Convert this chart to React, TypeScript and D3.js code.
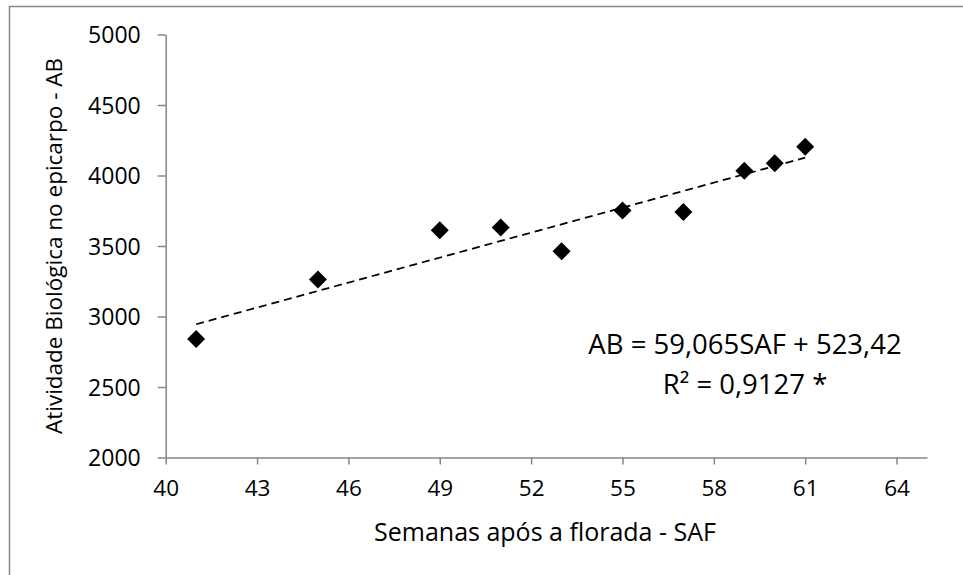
import React, { useEffect, useRef } from 'react';
import * as d3 from 'd3';

// semanas após a florada (SAF) and atividade biológica (AB)
const weeks = [41, 45, 49, 51, 53, 55, 57, 59, 60, 61];
const activity = [2840, 3262, 3612, 3632, 3462, 3752, 3742, 4034, 4086, 4204];

const xTicks = [40, 43, 46, 49, 52, 55, 58, 61, 64];
const yTicks = [2000, 2500, 3000, 3500, 4000, 4500, 5000];

// linear trend from the equation shown on the chart
const slope = 59.065;
const intercept = 523.42;
const equationLines = ['AB = 59,065SAF + 523,42', 'R² = 0,9127 *'];

const FONT = '"Open Sans", sans-serif';
const GRAY = '#868686';

const App = () => {
  const ref = useRef<SVGSVGElement>(null);

  useEffect(() => {
    if (!ref.current) return;
    const width = 963,
      height = 575;
    const svg = d3.select(ref.current);
    svg.selectAll('*').remove();

    const x = d3.scaleLinear().domain([40, 65]).range([165.7, 927]);
    const y = d3.scaleLinear().domain([2000, 5000]).range([457.5, 34.5]);

    svg.append('rect').attr('width', width).attr('height', height).attr('fill', 'white');

    // outer chart border
    svg
      .append('rect')
      .attr('x', 9.5)
      .attr('y', 6.5)
      .attr('width', 1000)
      .attr('height', 1000)
      .attr('fill', 'none')
      .attr('stroke', '#898989')
      .attr('stroke-width', 1.5);

    // y axis
    const yAxis = svg
      .append('g')
      .attr('transform', `translate(${x(40)},0)`)
      .call(
        d3
          .axisLeft(y)
          .tickValues(yTicks)
          .tickFormat(d3.format('d'))
          .tickSize(8)
          .tickSizeOuter(0)
          .tickPadding(17)
      );
    yAxis.select('.domain').attr('stroke', GRAY).attr('stroke-width', 1.5);
    yAxis.selectAll('.tick line').attr('stroke', GRAY).attr('stroke-width', 1.5);
    yAxis
      .selectAll('.tick text')
      .attr('font-family', FONT)
      .attr('font-size', 23)
      .attr('fill', '#000')
      .attr('dy', '0.36em');

    // x axis
    const xAxis = svg
      .append('g')
      .attr('transform', `translate(0,${y(2000)})`)
      .call(
        d3
          .axisBottom(x)
          .tickValues(xTicks)
          .tickFormat(d3.format('d'))
          .tickSize(7)
          .tickSizeOuter(0)
          .tickPadding(16)
      );
    xAxis.select('.domain').attr('stroke', GRAY).attr('stroke-width', 1.5);
    xAxis.selectAll('.tick line').attr('stroke', GRAY).attr('stroke-width', 1.5);
    xAxis
      .selectAll('.tick text')
      .attr('font-family', FONT)
      .attr('font-size', 22.5)
      .attr('fill', '#000');

    // trend line
    const x0 = d3.min(weeks)!,
      x1 = d3.max(weeks)!;
    svg
      .append('line')
      .attr('x1', x(x0))
      .attr('y1', y(slope * x0 + intercept))
      .attr('x2', x(x1))
      .attr('y2', y(slope * x1 + intercept))
      .attr('stroke', 'black')
      .attr('stroke-width', 1.75)
      .attr('stroke-dasharray', '8,5');

    // diamonds
    const diamond = 'M0,-9L9,0L0,9L-9,0Z';
    svg
      .append('g')
      .selectAll('path')
      .data(weeks)
      .join('path')
      .attr('transform', (d, i) => `translate(${x(d)},${y(activity[i])})`)
      .attr('d', diamond)
      .attr('fill', 'black');

    // equation
    const eq = svg
      .append('text')
      .attr('font-family', FONT)
      .attr('font-size', 27.5)
      .attr('text-anchor', 'middle')
      .attr('fill', '#000');
    equationLines.forEach((t, i) => {
      eq.append('tspan')
        .attr('x', 745)
        .attr('y', 354 + i * 40)
        .text(t);
    });

    // axis titles
    svg
      .append('text')
      .attr('x', 545)
      .attr('y', 541)
      .attr('text-anchor', 'middle')
      .attr('font-family', FONT)
      .attr('font-size', 25)
      .attr('fill', '#000')
      .text('Semanas após a florada - SAF');

    svg
      .append('text')
      .attr('transform', 'translate(62,246) rotate(-90)')
      .attr('text-anchor', 'middle')
      .attr('font-family', FONT)
      .attr('font-size', 22.5)
      .attr('fill', '#000')
      .text('Atividade Biológica no epicarpo - AB');
  }, []);

  return (
    <svg
      ref={ref}
      width={963}
      height={575}
      style={{ position: 'absolute', left: 0, top: 0, display: 'block' }}
    />
  );
};

export default App;
